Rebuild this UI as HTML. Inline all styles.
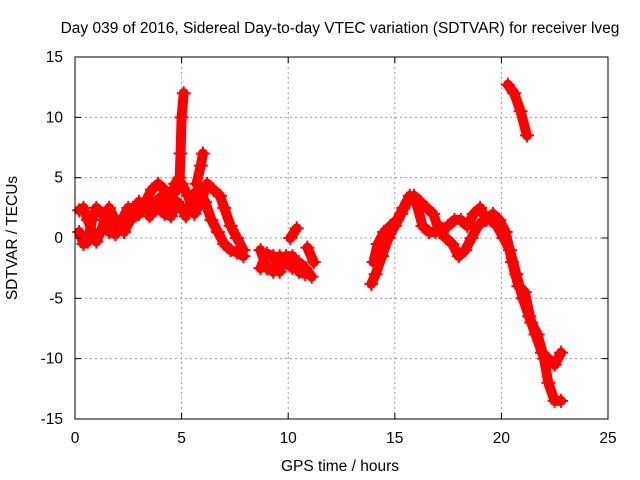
<!DOCTYPE html>
<html><head><meta charset="utf-8"><style>
body{margin:0;background:#fff}
svg{display:block;font-family:"Liberation Sans",sans-serif}
</style></head><body>
<svg id="chart" width="640" height="480">
<text x="340" y="33" font-size="15.5" text-anchor="middle">Day 039 of 2016, Sidereal Day-to-day VTEC variation (SDTVAR) for receiver lveg</text>
<text x="340" y="471" font-size="15.5" text-anchor="middle">GPS time / hours</text>
<text x="17" y="238" font-size="15.5" text-anchor="middle" transform="rotate(-90 17 238)">SDTVAR / TECUs</text>
<g id="grid"></g><g id="marks"></g><g id="axes"></g>
</svg>
<script>
const xTicks=[0,5,10,15,20,25];
const yTicks=[-15,-10,-5,0,5,10,15];
const trackA1=[[0.2,2.3],[0.4,2.5],[0.6,1.5],[0.8,0.5],[1.0,-0.3],[1.2,0.5],[1.4,1.5],[1.6,2.5],[1.8,1.8],[2.0,1.0],[2.3,0.5],[2.6,1.5],[3.0,2.0],[3.3,3.0],[3.6,4.0],[3.9,4.5],[4.2,4.0],[4.5,3.5],[4.8,4.0],[5.0,4.5],[5.3,3.5],[5.6,2.0],[5.9,3.0],[6.2,4.5],[6.5,4.0],[6.8,3.5],[7.0,2.5],[7.3,1.0],[7.6,0],[7.9,-1.0]];
const trackA2=[[0.2,0.5],[0.4,-0.5],[0.6,-0.3],[0.8,1.5],[1.0,2.5],[1.3,2.0],[1.6,0.5],[1.9,0.3],[2.2,1.5],[2.5,2.5],[2.8,2.5],[3.0,3.0],[3.3,2.5],[3.6,2.0],[3.9,2.5],[4.2,2.0],[4.5,1.8],[4.8,3.0],[5.0,2.5],[5.2,1.8],[5.5,3.5],[5.8,4.0],[6.1,3.0],[6.4,1.5],[6.7,0.5],[7.0,-0.5],[7.3,-1.0],[7.6,-1.2],[7.9,-1.5]];
const trackA3=[[3.5,1.8],[3.8,3.0],[4.1,3.5],[4.4,2.5],[4.7,4.5],[4.9,5.0]];
const spike1=[[4.9,4.5],[4.95,7],[5.0,10],[5.1,12]];
const spike2=[[5.7,4.5],[5.9,6.0],[6.0,7.0]];
const trackB1=[[8.7,-1],[9.0,-2.5],[9.3,-2.8],[9.6,-1.5],[9.9,-2.0],[10.2,-2.5],[10.5,-2.0],[10.8,-2.5],[11.1,-3.2]];
const trackB2=[[8.7,-2.5],[9.0,-1.3],[9.3,-1.5],[9.6,-2.8],[9.9,-1.5],[10.2,-1.5],[10.5,-2.8],[10.8,-3.0]];
const trackB3=[[10.1,0],[10.4,0.8]];
const trackB4=[[10.9,-0.8],[11.2,-2.0]];
const trackC1=[[13.9,-3.8],[14.1,-3.0],[14.4,-1.5],[14.7,0],[15.0,1.0],[15.3,2.0],[15.6,3.0],[15.9,3.5],[16.2,3.0],[16.5,2.5],[16.8,2.0],[17.1,0.5],[17.4,0.0],[17.7,-0.5],[18.0,-1.5],[18.3,-1.0],[18.6,0],[18.9,1.0],[19.2,1.5],[19.5,1.5],[19.8,1.0],[20.1,0],[20.4,-1],[20.7,-3],[21.0,-5],[21.3,-6.5],[21.6,-8],[21.9,-9.5],[22.2,-10],[22.5,-10.5],[22.8,-9.5]];
const trackC2=[[14.0,-2.0],[14.2,-0.5],[14.5,0.5],[14.8,1.0],[15.1,1.5],[15.4,2.5],[15.7,3.5],[16.0,3.0],[16.3,1.0],[16.6,0.5],[16.9,0.5],[17.2,0.8],[17.5,1.0],[17.8,1.5],[18.1,1.5],[18.4,1.0],[18.7,2.0],[19.0,2.5],[19.3,1.5],[19.6,2.0],[19.9,1.5],[20.2,0.5],[20.5,-2],[20.8,-4],[21.1,-4.5],[21.4,-7],[21.7,-8],[22.0,-10],[22.2,-12],[22.5,-13.5],[22.8,-13.5]];
const trackC3=[[20.3,12.7],[20.6,12],[20.9,10.5],[21.2,8.5]];
const tracks=[trackA1,trackA2,trackA3,spike1,spike2,trackB1,trackB2,trackB3,trackB4,trackC1,trackC2,trackC3];

const L=75,R=608,T=57,B=419,NS="http://www.w3.org/2000/svg";
const sx=v=>L+(v-0)/(25-0)*(R-L);
const sy=v=>B-(v+15)/30*(B-T);
function mk(tag,attrs,parent){const e=document.createElementNS(NS,tag);for(const k in attrs)e.setAttribute(k,attrs[k]);parent.appendChild(e);return e;}
const grid=document.getElementById('grid'),marks=document.getElementById('marks'),axes=document.getElementById('axes');
xTicks.forEach(t=>{const x=sx(t);
 if(t>0&&t<25){const g=mk('line',{x1:x,x2:x,y1:T,y2:B,stroke:'#999','stroke-dasharray':'2,3'},grid);}
 mk('line',{x1:x,x2:x,y1:B,y2:B-6,stroke:'#000'},axes);mk('line',{x1:x,x2:x,y1:T,y2:T+6,stroke:'#000'},axes);
 const tx=mk('text',{x:x,y:B+24,'font-size':15.5,'text-anchor':'middle'},axes);tx.textContent=t;
 });
yTicks.forEach(t=>{const y=sy(t);
 if(t>-15&&t<15){const g=mk('line',{x1:L,x2:R,y1:y,y2:y,stroke:'#999','stroke-dasharray':'2,3'},grid);}
 mk('line',{x1:L,x2:L+6,y1:y,y2:y,stroke:'#000'},axes);mk('line',{x1:R,x2:R-6,y1:y,y2:y,stroke:'#000'},axes);
 const tx=mk('text',{x:L-12,y:y+5,'font-size':15.5,'text-anchor':'end'},axes);tx.textContent=t;
 });
const fr=mk('rect',{x:L,y:T,width:R-L,height:B-T,fill:'none',stroke:'#000'},axes);

tracks.forEach(tr=>{
 const pl=mk('polyline',{points:tr.map(p=>sx(p[0])+','+sy(p[1])).join(' '),fill:'none',stroke:'#f00','stroke-width':10,'stroke-linejoin':'round','stroke-linecap':'round'},marks);
 
 
 tr.forEach(p=>{const x=sx(p[0]),y=sy(p[1]);
  const m=mk('path',{d:`M${x-7},${y}H${x+7}M${x},${y-7}V${y+7}`,stroke:'#f00','stroke-width':2},marks);
  
  });
});
</script>
</body></html>
